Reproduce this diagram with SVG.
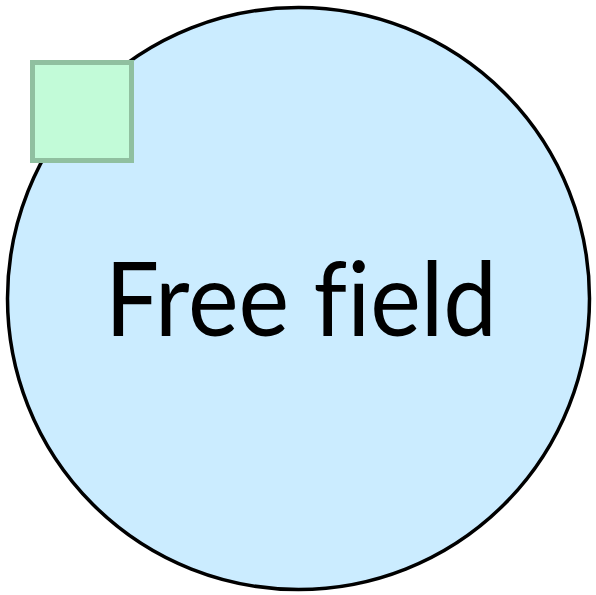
<svg xmlns="http://www.w3.org/2000/svg" width="596" height="595" viewBox="0 0 596 595">
<style>
.field{fill:#cbecff;stroke:#000;stroke-width:3.5}
.lbl{font-family:Lato,"Open Sans","Liberation Sans",sans-serif;font-size:102px;fill:#000;font-variant-ligatures:none;font-feature-settings:"liga" 0}
.sq{fill:#c2fbd8;stroke:#90c0a0;stroke-width:5}
</style>
<g id="free-field">
<circle class="field" cx="298.5" cy="298.5" r="291"/>
<text class="lbl" x="301" y="336" text-anchor="middle" textLength="392" lengthAdjust="spacingAndGlyphs">Free field</text>
</g>
<g id="box">
<rect class="sq" x="32.5" y="62.5" width="99" height="98"/>
</g>
</svg>
